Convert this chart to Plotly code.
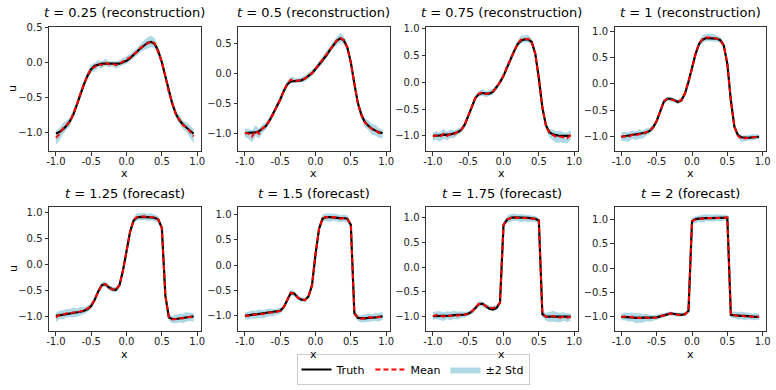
import plotly.graph_objects as go

# grid and values
x = [-1.0, -0.95, -0.9, -0.85, -0.8, -0.75, -0.7, -0.65, -0.6, -0.55,
     -0.5, -0.45, -0.4, -0.35, -0.3, -0.25, -0.2, -0.15, -0.1, -0.05,
     0.0, 0.05, 0.1, 0.15, 0.2, 0.25, 0.3, 0.35, 0.4, 0.45,
     0.5, 0.55, 0.6, 0.65, 0.7, 0.75, 0.8, 0.85, 0.9, 0.95]

titles = ["<i>t</i> = 0.25 (reconstruction)", "<i>t</i> = 0.5 (reconstruction)",
          "<i>t</i> = 0.75 (reconstruction)", "<i>t</i> = 1 (reconstruction)",
          "<i>t</i> = 1.25 (forecast)", "<i>t</i> = 1.5 (forecast)",
          "<i>t</i> = 1.75 (forecast)", "<i>t</i> = 2 (forecast)"]

truth_1 = [-1.02, -1.00, -0.96, -0.91, -0.84, -0.74, -0.60, -0.45, -0.31, -0.19,
           -0.10, -0.05, -0.03, -0.02, -0.02, -0.02, -0.03, -0.03, -0.02, 0.00,
           0.02, 0.06, 0.11, 0.16, 0.20, 0.24, 0.28, 0.29, 0.26, 0.16,
           0.00, -0.20, -0.42, -0.60, -0.74, -0.83, -0.89, -0.94, -0.98, -1.02]
mean_1 = [-1.08, -1.03, -0.95, -0.90, -0.85, -0.73, -0.60, -0.44, -0.30, -0.18,
          -0.09, -0.07, -0.02, -0.04, 0.00, -0.03, -0.02, -0.04, -0.02, 0.01,
          0.03, 0.07, 0.11, 0.15, 0.21, 0.24, 0.28, 0.30, 0.27, 0.15,
          0.01, -0.21, -0.43, -0.59, -0.75, -0.82, -0.90, -0.93, -0.99, -1.06]
std2_1 = [0.10, 0.09, 0.08, 0.07, 0.06, 0.05, 0.05, 0.05, 0.05, 0.05,
          0.06, 0.06, 0.05, 0.05, 0.05, 0.04, 0.04, 0.05, 0.05, 0.05,
          0.05, 0.05, 0.05, 0.05, 0.06, 0.07, 0.08, 0.08, 0.07, 0.06,
          0.05, 0.05, 0.05, 0.05, 0.05, 0.06, 0.06, 0.07, 0.08, 0.10]

truth_2 = [-1.00, -1.00, -1.00, -0.99, -0.97, -0.93, -0.88, -0.79, -0.68, -0.57,
           -0.44, -0.30, -0.19, -0.14, -0.13, -0.13, -0.12, -0.09, -0.05, 0.00,
           0.07, 0.14, 0.21, 0.29, 0.38, 0.46, 0.54, 0.58, 0.55, 0.43,
           0.18, -0.18, -0.50, -0.70, -0.82, -0.88, -0.93, -0.96, -0.99, -1.00]
mean_2 = [-1.00, -1.01, -1.06, -0.96, -1.01, -0.92, -0.88, -0.78, -0.69, -0.56,
          -0.45, -0.29, -0.18, -0.11, -0.12, -0.13, -0.11, -0.09, -0.04, 0.00,
          0.07, 0.15, 0.21, 0.30, 0.38, 0.47, 0.54, 0.59, 0.55, 0.43,
          0.17, -0.17, -0.51, -0.70, -0.83, -0.87, -0.94, -0.95, -1.00, -1.02]
std2_2 = [0.07, 0.08, 0.10, 0.09, 0.08, 0.07, 0.06, 0.05, 0.05, 0.05,
          0.05, 0.05, 0.05, 0.05, 0.04, 0.04, 0.04, 0.05, 0.05, 0.05,
          0.05, 0.05, 0.05, 0.05, 0.06, 0.06, 0.07, 0.08, 0.07, 0.06,
          0.05, 0.05, 0.05, 0.06, 0.07, 0.08, 0.09, 0.09, 0.08, 0.07]

truth_3 = [-1.00, -1.00, -0.99, -0.98, -0.98, -0.97, -0.95, -0.93, -0.89, -0.79,
           -0.63, -0.45, -0.30, -0.22, -0.20, -0.21, -0.21, -0.18, -0.10, 0.00,
           0.12, 0.28, 0.43, 0.58, 0.71, 0.78, 0.80, 0.80, 0.75, 0.53,
           0.08, -0.47, -0.80, -0.93, -0.97, -0.99, -1.00, -1.00, -1.00, -1.00]
mean_3 = [-1.01, -0.99, -1.02, -0.96, -1.00, -0.96, -0.97, -0.92, -0.89, -0.80,
          -0.62, -0.45, -0.29, -0.21, -0.19, -0.22, -0.20, -0.17, -0.10, 0.01,
          0.12, 0.29, 0.43, 0.59, 0.72, 0.80, 0.81, 0.81, 0.74, 0.53,
          0.07, -0.47, -0.81, -0.95, -0.98, -1.02, -1.01, -1.03, -1.04, -0.98]
std2_3 = [0.08, 0.08, 0.09, 0.09, 0.08, 0.08, 0.07, 0.06, 0.05, 0.05,
          0.05, 0.05, 0.05, 0.05, 0.06, 0.06, 0.05, 0.05, 0.05, 0.05,
          0.05, 0.05, 0.05, 0.05, 0.06, 0.07, 0.07, 0.07, 0.06, 0.05,
          0.05, 0.05, 0.06, 0.08, 0.10, 0.11, 0.11, 0.10, 0.10, 0.09]

truth_4 = [-1.00, -0.99, -0.98, -0.97, -0.96, -0.95, -0.94, -0.92, -0.89, -0.82,
           -0.70, -0.50, -0.34, -0.28, -0.28, -0.31, -0.34, -0.31, -0.18, 0.04,
           0.29, 0.57, 0.76, 0.84, 0.87, 0.87, 0.87, 0.86, 0.83, 0.73,
           0.38, -0.31, -0.81, -0.97, -1.01, -1.02, -1.02, -1.01, -1.01, -1.00]
mean_4 = [-1.00, -0.99, -1.01, -0.96, -0.98, -0.95, -0.96, -0.91, -0.89, -0.82,
          -0.70, -0.50, -0.33, -0.28, -0.29, -0.31, -0.34, -0.30, -0.18, 0.04,
          0.29, 0.57, 0.77, 0.85, 0.88, 0.88, 0.88, 0.86, 0.83, 0.73,
          0.38, -0.31, -0.81, -0.98, -1.04, -1.03, -1.02, -1.01, -1.01, -1.00]
std2_4 = [0.08, 0.09, 0.09, 0.08, 0.08, 0.09, 0.08, 0.07, 0.06, 0.05,
          0.05, 0.05, 0.05, 0.04, 0.04, 0.04, 0.04, 0.04, 0.04, 0.05,
          0.05, 0.05, 0.06, 0.07, 0.07, 0.07, 0.07, 0.06, 0.06, 0.05,
          0.05, 0.05, 0.05, 0.05, 0.06, 0.06, 0.05, 0.06, 0.05, 0.04]

truth_5 = [-0.99, -0.98, -0.96, -0.95, -0.94, -0.93, -0.92, -0.91, -0.89, -0.86,
           -0.80, -0.68, -0.52, -0.40, -0.38, -0.44, -0.48, -0.49, -0.40, -0.12,
           0.25, 0.62, 0.84, 0.90, 0.91, 0.91, 0.90, 0.90, 0.89, 0.86,
           0.70, -0.60, -1.02, -1.05, -1.05, -1.04, -1.03, -1.02, -1.01, -1.00]
mean_5 = [-1.02, -0.97, -0.97, -0.94, -0.94, -0.92, -0.93, -0.90, -0.89, -0.85,
          -0.80, -0.67, -0.52, -0.39, -0.38, -0.45, -0.48, -0.49, -0.40, -0.12,
          0.25, 0.62, 0.85, 0.91, 0.91, 0.92, 0.90, 0.91, 0.89, 0.86,
          0.70, -0.60, -1.02, -1.06, -1.05, -1.03, -1.04, -1.01, -1.01, -1.02]
std2_5 = [0.09, 0.08, 0.09, 0.08, 0.08, 0.09, 0.08, 0.08, 0.07, 0.06,
          0.06, 0.05, 0.05, 0.05, 0.05, 0.05, 0.05, 0.05, 0.05, 0.05,
          0.05, 0.05, 0.06, 0.07, 0.07, 0.07, 0.07, 0.07, 0.06, 0.06,
          0.05, 0.05, 0.06, 0.07, 0.08, 0.08, 0.09, 0.09, 0.08, 0.08]

truth_6 = [-1.00, -0.99, -0.98, -0.97, -0.97, -0.96, -0.95, -0.94, -0.93, -0.92,
           -0.90, -0.83, -0.70, -0.55, -0.56, -0.64, -0.68, -0.69, -0.62, -0.40,
           0.22, 0.72, 0.92, 0.95, 0.95, 0.94, 0.94, 0.93, 0.93, 0.92,
           0.80, -0.95, -1.04, -1.05, -1.05, -1.04, -1.04, -1.03, -1.02, -1.01]
mean_6 = [-1.00, -1.00, -0.97, -0.98, -0.96, -0.97, -0.95, -0.93, -0.94, -0.92,
          -0.90, -0.83, -0.70, -0.54, -0.57, -0.64, -0.68, -0.69, -0.61, -0.40,
          0.22, 0.72, 0.93, 0.95, 0.94, 0.95, 0.94, 0.92, 0.93, 0.91,
          0.80, -0.95, -1.04, -1.06, -1.05, -1.03, -1.04, -1.02, -1.03, -1.00]
std2_6 = [0.07, 0.08, 0.08, 0.08, 0.09, 0.08, 0.08, 0.08, 0.07, 0.07,
          0.06, 0.05, 0.05, 0.06, 0.05, 0.05, 0.04, 0.04, 0.04, 0.05,
          0.05, 0.06, 0.07, 0.07, 0.08, 0.07, 0.07, 0.07, 0.07, 0.07,
          0.06, 0.05, 0.06, 0.07, 0.08, 0.08, 0.07, 0.08, 0.08, 0.08]

truth_7 = [-0.99, -0.99, -0.99, -0.98, -0.98, -0.98, -0.97, -0.97, -0.97, -0.96,
           -0.94, -0.90, -0.83, -0.75, -0.74, -0.79, -0.84, -0.86, -0.83, -0.72,
           0.85, 0.95, 0.99, 1.00, 1.00, 0.99, 0.99, 0.99, 0.98, 0.97,
           0.94, -0.95, -1.00, -1.00, -1.00, -1.00, -1.00, -1.00, -1.00, -1.00]
mean_7 = [-0.99, -0.97, -0.98, -1.00, -0.97, -0.99, -0.96, -0.98, -0.96, -0.96,
          -0.94, -0.90, -0.82, -0.74, -0.75, -0.79, -0.82, -0.83, -0.80, -0.72,
          0.85, 0.96, 0.99, 1.01, 0.99, 0.99, 0.99, 0.98, 0.98, 0.97,
          0.94, -0.95, -1.00, -1.01, -0.99, -1.01, -1.02, -1.00, -1.02, -1.01]
std2_7 = [0.08, 0.08, 0.09, 0.09, 0.08, 0.09, 0.08, 0.08, 0.07, 0.06,
          0.05, 0.05, 0.05, 0.05, 0.05, 0.05, 0.04, 0.04, 0.04, 0.05,
          0.06, 0.07, 0.08, 0.07, 0.07, 0.08, 0.07, 0.07, 0.06, 0.06,
          0.05, 0.06, 0.08, 0.10, 0.11, 0.10, 0.10, 0.09, 0.09, 0.08]

truth_8 = [-1.00, -1.00, -1.01, -1.01, -1.02, -1.02, -1.02, -1.02, -1.02, -1.02,
           -1.01, -0.99, -0.97, -0.94, -0.93, -0.94, -0.95, -0.96, -0.94, -0.88,
           0.97, 1.01, 1.02, 1.03, 1.03, 1.03, 1.03, 1.04, 1.04, 1.04,
           1.04, -0.96, -0.97, -0.97, -0.98, -0.98, -0.99, -0.99, -1.00, -1.00]
mean_8 = [-1.00, -0.99, -1.01, -1.00, -1.03, -1.02, -1.03, -1.01, -1.03, -1.02,
          -1.01, -0.98, -0.97, -0.94, -0.93, -0.94, -0.96, -0.95, -0.95, -0.88,
          0.97, 1.00, 1.02, 1.02, 1.04, 1.03, 1.03, 1.04, 1.03, 1.04,
          1.04, -0.96, -0.96, -0.98, -0.97, -0.99, -0.98, -1.00, -0.99, -1.00]
std2_8 = [0.07, 0.08, 0.09, 0.09, 0.10, 0.10, 0.09, 0.08, 0.07, 0.06,
          0.05, 0.05, 0.04, 0.04, 0.04, 0.04, 0.04, 0.04, 0.04, 0.05,
          0.06, 0.07, 0.07, 0.08, 0.07, 0.07, 0.07, 0.07, 0.07, 0.06,
          0.06, 0.06, 0.07, 0.08, 0.08, 0.08, 0.07, 0.07, 0.07, 0.06]

truths = [truth_1, truth_2, truth_3, truth_4, truth_5, truth_6, truth_7, truth_8]
means = [mean_1, mean_2, mean_3, mean_4, mean_5, mean_6, mean_7, mean_8]
stds2 = [std2_1, std2_2, std2_3, std2_4, std2_5, std2_6, std2_7, std2_8]

y_ranges = [[-1.27, 0.505], [-1.30, 0.77], [-1.28, 1.03], [-1.27, 1.08],
            [-1.28, 1.10], [-1.30, 1.15], [-1.29, 1.21], [-1.29, 1.26]]
x_ticks = [-1.0, -0.5, 0.0, 0.5, 1.0]
x_ticktext = ["-1.0", "-0.5", "0.0", "0.5", "1.0"]

W, H = 776, 390
FONT = "DejaVu Sans"
col_px = [(49, 200.5), (238, 389.5), (426, 577.5), (614.5, 766)]
row_px = [(27, 151), (207, 331)]


def px_x(p):
    return p / W


def px_y(p):
    return 1 - p / H


fig = go.Figure()
layout = {}
annotations = []

for i in range(8):
    n = i + 1
    sfx = "" if n == 1 else str(n)
    xa, ya = "x" + sfx, "y" + sfx
    upper = [m + s for m, s in zip(means[i], stds2[i])]
    lower = [m - s for m, s in zip(means[i], stds2[i])]

    fig.add_trace(go.Scatter(x=x + x[::-1], y=upper + lower[::-1], fill="toself",
                             fillcolor="lightblue", line=dict(width=0), mode="lines",
                             name="±2 Std", legendgroup="std", legendrank=3,
                             showlegend=(n == 1), xaxis=xa, yaxis=ya, hoverinfo="skip"))
    fig.add_trace(go.Scatter(x=x, y=truths[i], mode="lines", line=dict(color="black", width=2.2),
                             name="Truth", legendgroup="truth", legendrank=1,
                             showlegend=(n == 1), xaxis=xa, yaxis=ya))
    fig.add_trace(go.Scatter(x=x, y=means[i], mode="lines",
                             line=dict(color="red", width=2, dash="5px,3px"),
                             name="Mean", legendgroup="mean", legendrank=2,
                             showlegend=(n == 1), xaxis=xa, yaxis=ya))

    c, r = i % 4, i // 4
    x0, x1 = col_px[c]
    y0, y1 = row_px[r]
    lo, hi = y_ranges[i]
    yt = [v for v in [-1.0, -0.5, 0.0, 0.5, 1.0] if lo <= v <= hi]
    axis_common = dict(showline=True, linecolor="#333", linewidth=1, mirror=True,
                       ticks="outside", ticklen=3.5, tickcolor="#333", tickwidth=1,
                       showgrid=False, zeroline=False, automargin=False,
                       tickfont=dict(family=FONT, size=10, color="#222"))
    layout["xaxis" + sfx] = dict(domain=[px_x(x0), px_x(x1)], range=[-1.0975, 1.0475],
                                 tickvals=x_ticks, ticktext=x_ticktext, ticklabelstandoff=-3,
                                 anchor=ya, **axis_common)
    layout["yaxis" + sfx] = dict(domain=[px_y(y1), px_y(y0)], range=[lo, hi],
                                 tickvals=yt, ticktext=[f"{v:.1f}".replace("-", "\u2212") for v in yt],
                                 anchor=xa, **axis_common)

    xc = px_x((x0 + x1) / 2)
    annotations.append(dict(text=titles[i], x=xc, y=px_y(13 if r == 0 else 193),
                            xref="paper", yref="paper", showarrow=False,
                            font=dict(family=FONT, size=13, color="black"),
                            xanchor="center", yanchor="middle"))
    annotations.append(dict(text="x", x=xc, y=px_y(173 if r == 0 else 354),
                            xref="paper", yref="paper", showarrow=False,
                            font=dict(family=FONT, size=11, color="black"),
                            xanchor="center", yanchor="middle"))
    if c == 0:
        annotations.append(dict(text="u", x=px_x(13), y=px_y((y0 + y1) / 2),
                                xref="paper", yref="paper", showarrow=False, textangle=-90,
                                font=dict(family=FONT, size=11, color="black"),
                                xanchor="center", yanchor="middle"))

fig.update_layout(**layout)
fig.update_layout(
    width=W, height=H, margin=dict(l=0, r=0, t=0, b=0, autoexpand=False),
    paper_bgcolor="white", plot_bgcolor="white",
    annotations=annotations,
    legend=dict(orientation="h", x=px_x(413), xanchor="center", y=px_y(385), yanchor="bottom",
                bordercolor="#cccccc", borderwidth=1, bgcolor="white",
                font=dict(family=FONT, size=11, color="black"), itemwidth=30),
)

# the page body has a default 8px margin; drop it so the figure fills the window
fig.write_html("out.html", config={"displayModeBar": False},
               post_script="document.body.style.margin = '0';")
